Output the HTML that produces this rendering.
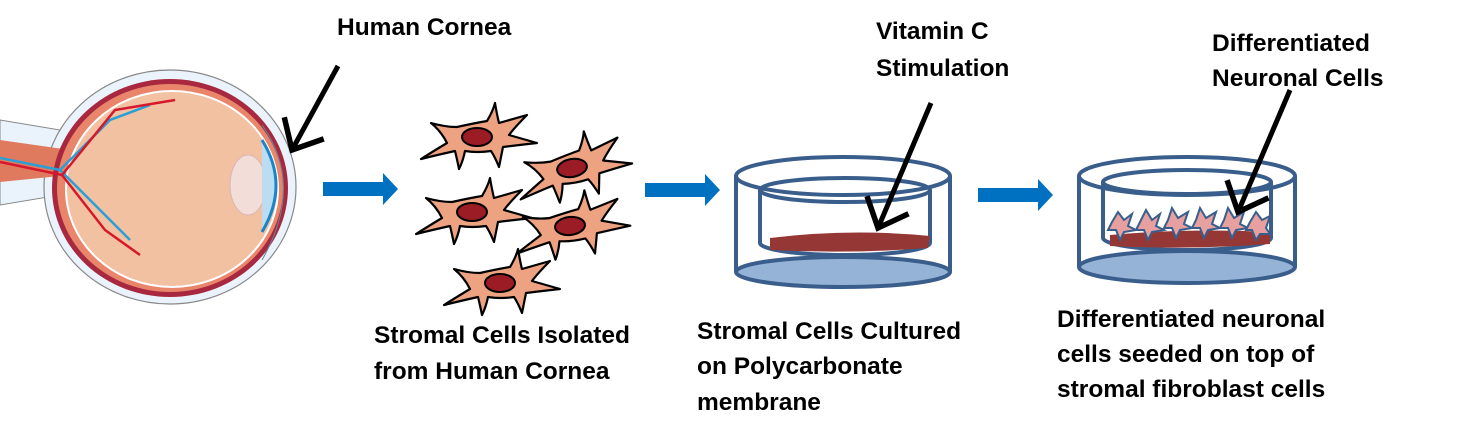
<!DOCTYPE html>
<html><head><meta charset="utf-8"><style>
html,body{margin:0;padding:0;background:#fff;}
svg{display:block}
text{font-family:"Liberation Sans",sans-serif;font-weight:bold;font-size:24.5px;fill:#000}
</style></head><body>
<svg width="1478" height="435" viewBox="0 0 1478 435" xmlns="http://www.w3.org/2000/svg">
<defs>
<marker id="ah" markerWidth="8" markerHeight="8" refX="4.5" refY="3" orient="auto" markerUnits="strokeWidth" overflow="visible">
<path d="M-0.5,-1.5 L4.5,3 L-0.5,7.5" fill="none" stroke="#000" stroke-width="1.1"/></marker>
<g id="cell">
<path d="M-56,22 Q-40,12 -30,6 Q-36,-6 -46,-14 Q-32,-10 -20,-10 Q-2,-14 10,-16 Q16,-26 18,-34 Q20,-22 22,-14 Q36,-18 50,-22 Q38,-10 32,-2 Q46,2 60,6 Q42,8 26,10 Q24,20 22,30 Q18,20 14,14 Q0,16 -12,14 Q-14,24 -18,32 Q-20,22 -22,14 Q-40,18 -56,22 Z" fill="#eda381" stroke="#000" stroke-width="2.2" stroke-linejoin="round"/>
<ellipse cx="0" cy="0" rx="15" ry="9" fill="#9b1c24" stroke="#000" stroke-width="2"/>
</g>
</defs>

<!-- Eye -->
<path d="M0,120 L60,130 L60,195 L0,205 Z" fill="#eaf2fb" stroke="#888" stroke-width="1"/>
<ellipse cx="170" cy="187" rx="126" ry="117" fill="#eaf2fb" stroke="#888" stroke-width="1.2"/>
<path d="M0,140 L70,150 L70,175 L0,182 Z" fill="#e07a5f"/>
<ellipse cx="170" cy="188" rx="118" ry="109" fill="#a8283f"/>
<ellipse cx="170" cy="188" rx="113" ry="104" fill="#e9856a"/>
<ellipse cx="172" cy="189" rx="106" ry="98" fill="#f2c1a2" stroke="#fff" stroke-width="2"/>
<path d="M0,158 L60,170 L110,120 L150,105 M60,170 L100,210 L130,240" fill="none" stroke="#2a9fd6" stroke-width="2.5"/>
<path d="M0,162 L62,175 L115,110 L175,100 M62,175 L105,230 L140,255" fill="none" stroke="#d6182b" stroke-width="2.5"/>
<ellipse cx="248" cy="185" rx="18" ry="30" fill="#f2ddd8" stroke="#d9b5ae" stroke-width="1"/>
<path d="M262,140 Q290,185 262,232" fill="#bcdcf2" stroke="#1a86c8" stroke-width="3"/>
<path d="M262,125 Q305,185 262,260" fill="none" stroke="#5a8a9a" stroke-width="1"/>
<line x1="338" y1="66" x2="292" y2="150" stroke="#000" stroke-width="5" marker-end="url(#ah)"/>
<text x="337" y="35">Human Cornea</text>

<!-- blue arrows -->
<path d="M323,182 L383,182 L383,173 L398,189 L383,205 L383,196 L323,196 Z" fill="#0070c0"/>
<path d="M645,183 L705,183 L705,174 L720,190 L705,206 L705,197 L645,197 Z" fill="#0070c0"/>
<path d="M978,188 L1038,188 L1038,179 L1053,195 L1038,211 L1038,202 L978,202 Z" fill="#0070c0"/>

<!-- cells -->
<use href="#cell" transform="translate(477,137)"/>
<use href="#cell" transform="translate(572,168) rotate(-10)"/>
<use href="#cell" transform="translate(472,212)"/>
<use href="#cell" transform="translate(570,226) rotate(-6)"/>
<use href="#cell" transform="translate(500,283)"/>

<text x="374" y="343">Stromal Cells Isolated</text>
<text x="374" y="379">from Human Cornea</text>

<!-- Dish 1 -->
<g stroke="#3a5e8c" stroke-width="4" fill="none">
<ellipse cx="843" cy="272" rx="107" ry="15" fill="#95b3d7"/>
<line x1="736" y1="176" x2="736" y2="272"/><line x1="950" y1="176" x2="950" y2="272"/>
<path d="M760,190 L760,243 A85,12 0 0 0 930,243 L930,190"/>
<ellipse cx="843" cy="176" rx="107" ry="19"/>
<ellipse cx="845" cy="190" rx="85" ry="12"/>
</g>
<path d="M770,238 Q850,228 930,236 L928,248 Q850,254 770,250 Z" fill="#953735"/>
<line x1="931" y1="103" x2="878" y2="228" stroke="#000" stroke-width="5" marker-end="url(#ah)"/>
<text x="876" y="39">Vitamin C</text>
<text x="876" y="76">Stimulation</text>
<text x="697" y="339">Stromal Cells Cultured</text>
<text x="697" y="374">on Polycarbonate</text>
<text x="697" y="410">membrane</text>

<!-- Dish 2 -->
<g stroke="#3a5e8c" stroke-width="4" fill="none">
<ellipse cx="1187" cy="267" rx="108" ry="16" fill="#95b3d7"/>
<line x1="1079" y1="176" x2="1079" y2="267"/><line x1="1295" y1="176" x2="1295" y2="267"/>
<path d="M1103,182 L1103,238 A84,12 0 0 0 1271,238 L1271,182"/>
<ellipse cx="1187" cy="176" rx="108" ry="19"/>
<ellipse cx="1187" cy="182" rx="84" ry="12"/>
</g>
<path d="M1110,235 Q1190,228 1270,232 L1270,244 Q1190,250 1110,246 Z" fill="#953735"/>
<g fill="#e6a0a0" stroke="#3a5e8c" stroke-width="2">
<path d="M1112,222 L1118,212 L1124,220 L1132,214 L1128,226 L1136,230 L1124,232 L1120,240 L1116,230 L1108,230 Z"/>
<path d="M1140,222 L1146,210 L1152,220 L1160,214 L1156,226 L1164,230 L1152,232 L1148,240 L1144,230 L1136,230 Z"/>
<path d="M1168,220 L1172,208 L1178,218 L1188,212 L1184,224 L1192,228 L1180,230 L1176,238 L1172,228 L1164,228 Z"/>
<path d="M1196,220 L1200,208 L1206,218 L1216,212 L1212,224 L1220,228 L1208,230 L1204,238 L1200,228 L1192,228 Z"/>
<path d="M1224,220 L1228,208 L1234,218 L1244,212 L1240,224 L1248,228 L1236,230 L1232,238 L1228,228 L1220,228 Z"/>
<path d="M1250,222 L1256,212 L1262,220 L1270,216 L1266,228 L1270,234 L1260,234 L1256,240 L1252,230 L1246,230 Z"/>
</g>
<line x1="1290" y1="90" x2="1238" y2="212" stroke="#000" stroke-width="5" marker-end="url(#ah)"/>
<text x="1212" y="51">Differentiated</text>
<text x="1212" y="86">Neuronal Cells</text>
<text x="1057" y="327">Differentiated neuronal</text>
<text x="1057" y="362">cells seeded on top of</text>
<text x="1057" y="397">stromal fibroblast cells</text>
</svg>
</body></html>
